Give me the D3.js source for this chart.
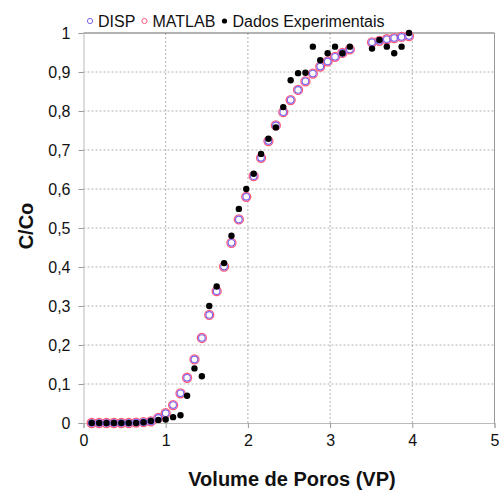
<!DOCTYPE html>
<html lang="pt">
<head>
<meta charset="UTF-8">
<title>C/Co x Volume de Poros</title>
<style>
    body { margin: 0; background: #fff; }
    text { font-family: Arial, "Liberation Sans", sans-serif; fill: #111; }
    .grid line { stroke: #b0b0b0; stroke-dasharray: 2,2; }
</style>
</head>
<body>
<svg width="502" height="490"></svg>
<script src="https://d3js.org/d3.v7.min.js"></script>
<script>
// volume de poros (VP) de cada amostra; indices 36 e 37 nao existem
const vp = [0.10, 0.19, 0.28, 0.37, 0.46, 0.55, 0.64, 0.73, 0.82, 0.91,
            1.00, 1.09, 1.18, 1.26, 1.35, 1.44, 1.53, 1.62, 1.71, 1.80,
            1.89, 1.98, 2.07, 2.16, 2.25, 2.34, 2.43, 2.52, 2.61, 2.70,
            2.79, 2.88, 2.97, 3.06, 3.15, 3.24, 3.51, 3.60, 3.69, 3.78,
            3.87, 3.96];

const disp = [0, 0, 0, 0, 0, 0, 0.001, 0.002, 0.004, 0.013,
              0.025, 0.046, 0.076, 0.116, 0.163, 0.218, 0.277, 0.338, 0.401, 0.462,
              0.522, 0.58, 0.633, 0.68, 0.723, 0.763, 0.797, 0.828, 0.854, 0.876,
              0.896, 0.914, 0.927, 0.939, 0.949, 0.958, 0.976, 0.98, 0.984, 0.987,
              0.99, 0.992];

const matlab = [0, 0, 0, 0, 0, 0, 0.001, 0.002, 0.004, 0.013,
                0.025, 0.046, 0.076, 0.116, 0.163, 0.218, 0.277, 0.338, 0.401, 0.462,
                0.522, 0.58, 0.633, 0.68, 0.723, 0.763, 0.797, 0.828, 0.854, 0.876,
                0.896, 0.914, 0.927, 0.939, 0.949, 0.958, 0.976, 0.98, 0.984, 0.987,
                0.99, 0.992];

const experimental = [0, 0, 0, 0, 0, 0, 0, 0.002, 0.005, 0.008,
                      0.009, 0.015, 0.02, 0.07, 0.14, 0.12, 0.30, 0.35, 0.41, 0.48,
                      0.549, 0.60, 0.639, 0.69, 0.729, 0.758, 0.81, 0.879, 0.897, 0.898,
                      0.965, 0.93, 0.948, 0.965, 0.948, 0.965, 0.96, 0.982, 0.965, 0.948,
                      0.965, 1.0];

const xTicks = [0, 1, 2, 3, 4, 5];
const yTicks = [0, 0.1, 0.2, 0.3, 0.4, 0.5, 0.6, 0.7, 0.8, 0.9, 1];

const plotL = 83.5, plotR = 494.5, plotT = 33, plotB = 423;

const svg = d3.select("svg");

const x = d3.scaleLinear().domain([0, 5]).range([plotL, plotR]);
const y = d3.scaleLinear().domain([0, 1]).range([plotB, plotT]);

// grade pontilhada
const grid = svg.append("g").attr("class", "grid");
grid.selectAll(".h")
    .data(yTicks.filter(d => d > 0 && d < 1))
    .join("line")
    .attr("x1", plotL).attr("x2", plotR)
    .attr("y1", d => y(d)).attr("y2", d => y(d));
grid.selectAll(".v")
    .data(xTicks.filter(d => d > 0 && d < 5))
    .join("line")
    .attr("y1", plotT).attr("y2", plotB)
    .attr("x1", d => x(d)).attr("x2", d => x(d));

// moldura
svg.append("line").attr("x1", plotL).attr("x2", plotR).attr("y1", plotT).attr("y2", plotT)
    .attr("stroke", "#666");
svg.append("line").attr("x1", plotR).attr("x2", plotR).attr("y1", plotT).attr("y2", plotB)
    .attr("stroke", "#999");

// eixos
const xAxis = svg.append("g")
    .attr("transform", `translate(0,${plotB})`)
    .call(d3.axisBottom(x).tickValues(xTicks).tickSize(5).tickPadding(7).tickFormat(d3.format("d")));
const yAxis = svg.append("g")
    .attr("transform", `translate(${plotL},0)`)
    .call(d3.axisLeft(y).tickValues(yTicks).tickSize(5).tickPadding(8)
        .tickFormat(d => d === 0 || d === 1 ? String(d) : d3.format(".1f")(d).replace(".", ",")));

[xAxis, yAxis].forEach(a => {
    a.select(".domain").attr("stroke", "#bbb");
    a.selectAll(".tick line").attr("stroke", "#999");
    a.selectAll(".tick text").attr("font-size", 16).attr("fill", "#111")
        .attr("font-family", "Arial, 'Liberation Sans', sans-serif");
});

// titulos dos eixos
svg.append("text")
    .attr("x", 292).attr("y", 486)
    .attr("text-anchor", "middle")
    .attr("font-size", 20).attr("font-weight", "bold")
    .text("Volume de Poros (VP)");
svg.append("text")
    .attr("transform", "translate(33,226) rotate(-90)")
    .attr("text-anchor", "middle")
    .attr("font-size", 20).attr("font-weight", "bold")
    .text("C/Co");

// series
const plot = svg.append("g");
plot.selectAll(".matlab")
    .data(vp.map((v, i) => [v, matlab[i]]))
    .join("circle")
    .attr("cx", d => x(d[0])).attr("cy", d => y(d[1]))
    .attr("r", 4.5)
    .attr("fill", "#fff").attr("stroke", "#ff5a7a").attr("stroke-width", 1.3);
plot.selectAll(".disp")
    .data(vp.map((v, i) => [v, disp[i]]))
    .join("circle")
    .attr("cx", d => x(d[0])).attr("cy", d => y(d[1]))
    .attr("r", 3.3)
    .attr("fill", "none").attr("stroke", "#7a62f0").attr("stroke-width", 1.1);
plot.selectAll(".exp")
    .data(vp.map((v, i) => [v, experimental[i]]))
    .join("circle")
    .attr("cx", d => x(d[0])).attr("cy", d => y(d[1]))
    .attr("r", 3.2)
    .attr("fill", "#000");

// legenda
const legend = [
    { name: "DISP", x: 90, stroke: "#7a62f0", fill: "none" },
    { name: "MATLAB", x: 144.5, stroke: "#ff5a7a", fill: "none" },
    { name: "Dados Experimentais", x: 224.5, stroke: "none", fill: "#000" }
];
const lg = svg.append("g").selectAll("g").data(legend).join("g");
lg.append("circle")
    .attr("cx", d => d.x).attr("cy", 21)
    .attr("r", 2.6)
    .attr("fill", d => d.fill).attr("stroke", d => d.stroke).attr("stroke-width", 1);
lg.append("text")
    .attr("x", d => d.x + 8).attr("y", 26.5)
    .attr("font-size", 16)
    .text(d => d.name);
</script>
</body>
</html>
